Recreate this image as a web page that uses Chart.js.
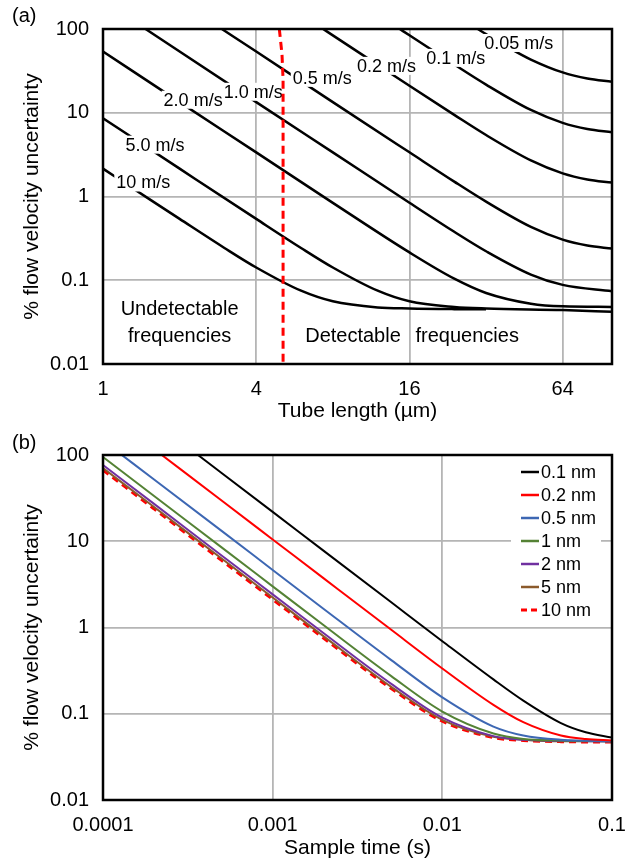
<!DOCTYPE html>
<html>
<head>
<meta charset="utf-8">
<script src="https://cdn.jsdelivr.net/npm/chart.js@4.4.1/dist/chart.umd.min.js"></script>
<style>
  html, body { margin: 0; padding: 0; background: #fff; }
  #wrap { position: relative; width: 626px; height: 864px; }
  #chartA { position: absolute; left: 0; top: 0; }
  #chartB { position: absolute; left: 0; top: 430px; }
</style>
</head>
<body>
<div id="wrap">
  <canvas id="chartA" width="626" height="430"></canvas>
  <canvas id="chartB" width="626" height="434"></canvas>
</div>
<script>
// ---- (a) uncertainty vs tube length, one curve per flow speed ----
const velocityNames = ['10 m/s', '5.0 m/s', '2.0 m/s', '1.0 m/s', '0.5 m/s', '0.2 m/s', '0.1 m/s', '0.05 m/s'];
const tube10  = [[1, 2.15], [1.5, 0.957], [2, 0.54], [3, 0.243], [4, 0.142], [6, 0.075], [8, 0.056], [12, 0.0474], [16, 0.046], [24, 0.0452], [32, 0.045]];
const tube5   = [[1, 8.6], [2, 2.15], [4, 0.54], [6, 0.243], [8, 0.142], [12, 0.075], [16, 0.056], [24, 0.048], [32, 0.046], [64, 0.044], [100, 0.042]];
const tube2   = [[1, 53.8], [2, 13.4], [4, 3.36], [8, 0.84], [16, 0.215], [24, 0.1045], [32, 0.0705], [48, 0.0525], [64, 0.0488], [100, 0.048]];
const tube1   = [[1.47, 100], [2, 53.8], [4, 13.4], [8, 3.36], [16, 0.843], [24, 0.379], [32, 0.222], [48, 0.117], [64, 0.088], [100, 0.074]];
const tube05  = [[2.93, 100], [4, 53.8], [8, 13.4], [16, 3.37], [24, 1.506], [32, 0.869], [48, 0.434], [64, 0.306], [80, 0.26], [100, 0.239]];
const tube02  = [[7.33, 100], [8, 84], [12, 37.35], [16, 21.0], [24, 9.43], [32, 5.42], [48, 2.70], [64, 1.89], [80, 1.60], [100, 1.465]];
const tube01  = [[14.66, 100], [16, 84.2], [24, 37.7], [32, 21.7], [48, 10.8], [64, 7.57], [80, 6.4], [100, 5.86]];
const tube005 = [[29.7, 100], [32, 86.8], [40, 58], [48, 43.2], [64, 30.3], [80, 25.6], [100, 23.4]];
const detectLimit = [[4.93, 100], [5.05, 50], [5.1, 25], [5.1, 0.01]];
const tubeTicks = [1, 4, 16, 64, 100];
const tubeTickLabels = ['1', '4', '16', '64', ''];

// ---- (b) uncertainty vs sample time, one curve per displacement ----
const noiseNames = ['0.1 nm', '0.2 nm', '0.5 nm', '1 nm', '2 nm', '5 nm', '10 nm'];
const noise01 = [[3.63e-4, 100], [5e-4, 61.9], [1e-3, 21.9], [2e-3, 7.74], [5e-3, 1.96], [1e-2, 0.694], [2e-2, 0.25], [3e-2, 0.142], [5e-2, 0.078], [7e-2, 0.061], [1e-1, 0.053]];
const noise02 = [[2.22e-4, 100], [5e-4, 29.7], [1e-3, 10.5], [2e-3, 3.71], [5e-3, 0.94], [1e-2, 0.335], [2e-2, 0.127], [3e-2, 0.080], [5e-2, 0.056], [7e-2, 0.051], [1e-1, 0.049]];
const noise05 = [[1.29e-4, 100], [2e-4, 52], [5e-4, 13.2], [1e-3, 4.65], [2e-3, 1.64], [5e-3, 0.419], [1e-2, 0.155], [2e-2, 0.071], [3e-2, 0.056], [5e-2, 0.050], [1e-1, 0.048]];
const noise1  = [[1e-4, 94.9], [2e-4, 33.5], [5e-4, 8.49], [1e-3, 3.0], [2e-3, 1.06], [5e-3, 0.273], [1e-2, 0.106], [2e-2, 0.059], [3e-2, 0.051], [5e-2, 0.049], [1e-1, 0.048]];
const noise2  = [[1e-4, 76.5], [2e-4, 27.1], [5e-4, 6.84], [1e-3, 2.42], [2e-3, 0.856], [5e-3, 0.222], [1e-2, 0.090], [2e-2, 0.055], [3e-2, 0.050], [5e-2, 0.0485], [1e-1, 0.048]];
const noise5  = [[1e-4, 70.5], [2e-4, 24.9], [5e-4, 6.31], [1e-3, 2.23], [2e-3, 0.789], [5e-3, 0.205], [1e-2, 0.085], [2e-2, 0.054], [3e-2, 0.050], [5e-2, 0.048], [1e-1, 0.048]];
const noise10 = [[1e-4, 67], [2e-4, 23.7], [5e-4, 6.0], [1e-3, 2.12], [2e-3, 0.75], [5e-3, 0.196], [1e-2, 0.082], [2e-2, 0.053], [3e-2, 0.049], [5e-2, 0.0475], [1e-1, 0.047]];
const noiseColors = ['#000000', '#ff0000', '#3d67b3', '#548235', '#7030a0', '#8b5a2b', '#ff0000'];
const timeTicks = [1e-4, 1e-3, 1e-2, 1e-1];
const timeTickLabels = ['0.0001', '0.001', '0.01', '0.1'];

const pctTicks = [0.01, 0.1, 1, 10, 100];
const pctTickLabels = ['0.01', '0.1', '1', '10', '100'];

// where the in-plot texts of (a) sit, in data units
const velocityLabelSpots = [[1.44, 1.47], [1.60, 4.16], [2.26, 14.3], [3.89, 17.8], [7.27, 26.1], [13.0, 36.3], [24.3, 45.2], [43.0, 68.1]];

Chart.defaults.font.family = "'Liberation Sans', Arial, sans-serif";
Chart.defaults.color = '#000';

const toXY = pts => pts.map(p => ({ x: p[0], y: p[1] }));

// black frame round the plot area
const frame = {
    id: 'frame',
    afterDatasetsDraw(chart) {
        const { ctx, chartArea: a } = chart;
        ctx.save();
        ctx.strokeStyle = '#000';
        ctx.lineWidth = 2.5;
        ctx.strokeRect(a.left, a.top, a.right - a.left, a.bottom - a.top);
        ctx.restore();
    }
};

// "(a)" / "(b)" tag in the corner
const panelTag = {
    id: 'panelTag',
    afterDraw(chart, args, opts) {
        const ctx = chart.ctx;
        ctx.save();
        ctx.font = "20px 'Liberation Sans', Arial, sans-serif";
        ctx.fillStyle = '#000';
        ctx.textBaseline = 'alphabetic';
        ctx.fillText(opts.text, 12, opts.y);
        ctx.restore();
    }
};

function logAxis(min, max, tickValues, tickLabels, title, isX, fitSize, titlePad) {
    return {
        type: 'logarithmic',
        min: min,
        max: max,
        afterBuildTicks(scale) {
            scale.ticks = tickValues.map(v => ({ value: v }));
        },
        afterFit(scale) {
            if (isX) scale.height = fitSize; else scale.width = fitSize;
            scale.paddingLeft = 0; scale.paddingRight = 0;
            scale.paddingTop = 0; scale.paddingBottom = 0;
        },
        ticks: {
            autoSkip: false,
            maxRotation: 0,
            padding: isX ? 13 : 14,
            font: { size: 20 },
            callback: (v, i) => tickLabels[i]
        },
        grid: { color: '#b5b5b5', lineWidth: 1.8, drawTicks: false },
        border: { display: false },
        title: {
            display: true,
            text: title,
            font: { size: 21 },
            padding: titlePad
        }
    };
}

// ---------- chart (a) ----------
const velocityLabels = {
    id: 'velocityLabels',
    afterDatasetDraw(chart, args) {
        if (args.index !== 1) return; // draw before the red dashed line goes on top
        const { ctx, scales: { x, y } } = chart;
        ctx.save();
        ctx.font = "18px 'Liberation Sans', Arial, sans-serif";
        ctx.textAlign = 'center';
        ctx.textBaseline = 'middle';
        velocityLabelSpots.forEach((spot, i) => {
            const px = x.getPixelForValue(spot[0]);
            const py = y.getPixelForValue(spot[1]);
            const w = ctx.measureText(velocityNames[i]).width;
            ctx.fillStyle = '#fff';
            ctx.fillRect(px - w / 2 - 2, py - 9, w + 4, 18);
            ctx.fillStyle = '#000';
            ctx.fillText(velocityNames[i], px, py + 1);
        });
        ctx.restore();
    },
    afterDatasetsDraw(chart) {
        const { ctx, scales: { x, y } } = chart;
        ctx.save();
        ctx.font = "20px 'Liberation Sans', Arial, sans-serif";
        ctx.fillStyle = '#000';
        ctx.textBaseline = 'middle';
        ctx.textAlign = 'center';
        ctx.fillText('Undetectable', x.getPixelForValue(2.0), y.getPixelForValue(0.0452));
        ctx.fillText('frequencies', x.getPixelForValue(2.0), y.getPixelForValue(0.0216));
        ctx.textAlign = 'left';
        ctx.fillText('Detectable', x.getPixelForValue(6.23), y.getPixelForValue(0.0216));
        ctx.fillText('frequencies', x.getPixelForValue(16.9), y.getPixelForValue(0.0216));
        ctx.restore();
    }
};

const tubeCurves = [tube10, tube5, tube2, tube1, tube05, tube02, tube01, tube005];
const datasetsA = [{
    label: 'detection limit',
    data: toXY(detectLimit),
    borderColor: '#ff0000',
    borderWidth: 3,
    borderDash: [8, 5],
    pointRadius: 0,
    tension: 0
}].concat(tubeCurves.map((pts, i) => ({
    label: velocityNames[i],
    data: toXY(pts),
    borderColor: '#000',
    borderWidth: 2.5,
    pointRadius: 0,
    cubicInterpolationMode: 'monotone'
})));

new Chart(document.getElementById('chartA'), {
    type: 'line',
    data: { datasets: datasetsA },
    options: {
        responsive: false,
        animation: false,
        devicePixelRatio: 1,
        layout: { padding: { top: 29, right: 14, bottom: 0, left: 0 } },
        plugins: { legend: { display: false }, tooltip: { enabled: false }, panelTag: { text: '(a)', y: 22 } },
        scales: {
            x: logAxis(1, 100, tubeTicks, tubeTickLabels, 'Tube length (µm)', true, 66, { top: 0, bottom: 6 }),
            y: logAxis(0.01, 100, pctTicks, pctTickLabels, '% flow velocity uncertainty', false, 103, { top: 20, bottom: 0 })
        }
    },
    plugins: [frame, panelTag, velocityLabels]
});

// ---------- chart (b) ----------
const boxLegend = {
    id: 'boxLegend',
    afterDatasetsDraw(chart) {
        const { ctx, chartArea: a } = chart;
        const sets = chart.data.datasets;
        const right = a.right - 11, left = right - 90, top = a.top + 5;
        ctx.save();
        ctx.fillStyle = '#fff';
        ctx.fillRect(left, top, right - left, sets.length * 23 + 2);
        ctx.font = "18px 'Liberation Sans', Arial, sans-serif";
        ctx.textBaseline = 'middle';
        ctx.textAlign = 'left';
        sets.forEach((ds, i) => {
            const yy = top + 12 + i * 23;
            ctx.strokeStyle = ds.borderColor;
            ctx.lineWidth = ds.borderDash ? 3 : 2.5;
            ctx.setLineDash(ds.borderDash ? [6, 4] : []);
            ctx.beginPath();
            ctx.moveTo(left + 10, yy);
            ctx.lineTo(left + 28, yy);
            ctx.stroke();
            ctx.setLineDash([]);
            ctx.fillStyle = '#000';
            ctx.fillText(ds.label, left + 30, yy + 1);
        });
        ctx.restore();
    }
};

const noiseCurves = [noise01, noise02, noise05, noise1, noise2, noise5, noise10];
const datasetsB = noiseCurves.map((pts, i) => ({
    label: noiseNames[i],
    data: toXY(pts),
    borderColor: noiseColors[i],
    borderWidth: i === 6 ? 3 : 2,
    borderDash: i === 6 ? [7, 5] : undefined,
    pointRadius: 0,
    cubicInterpolationMode: 'monotone'
}));

new Chart(document.getElementById('chartB'), {
    type: 'line',
    data: { datasets: datasetsB },
    options: {
        responsive: false,
        animation: false,
        devicePixelRatio: 1,
        layout: { padding: { top: 25, right: 14, bottom: 0, left: 0 } },
        plugins: { legend: { display: false }, tooltip: { enabled: false }, panelTag: { text: '(b)', y: 19 } },
        scales: {
            x: logAxis(1e-4, 1e-1, timeTicks, timeTickLabels, 'Sample time (s)', true, 64, { top: 0, bottom: 3 }),
            y: logAxis(0.01, 100, pctTicks, pctTickLabels, '% flow velocity uncertainty', false, 103, { top: 20, bottom: 0 })
        }
    },
    plugins: [frame, panelTag, boxLegend]
});
</script>
</body>
</html>
